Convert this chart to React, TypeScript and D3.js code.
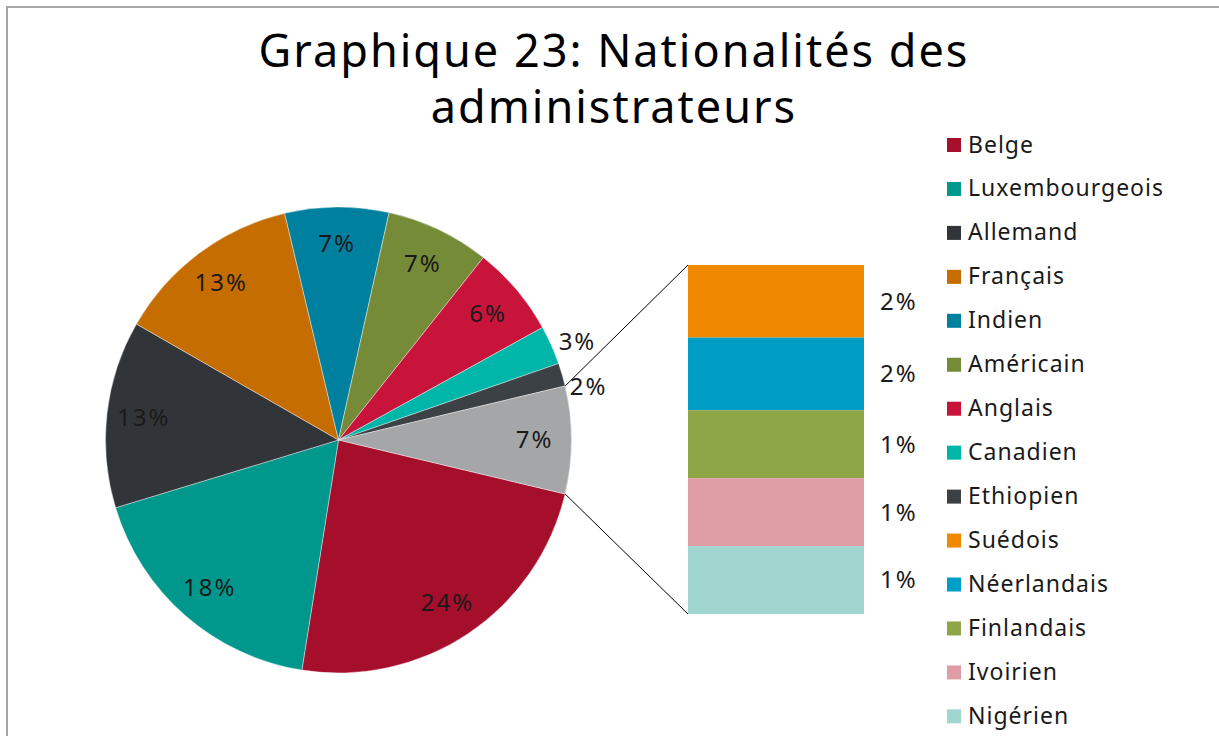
import React, { useRef, useEffect } from "react";
import * as d3 from "d3";

const pieNames = ["Belge", "Luxembourgeois", "Allemand", "Français", "Indien", "Américain", "Anglais", "Canadien", "Ethiopien"];
const pieValues = [23.8, 17.8, 13.0, 13.0, 7.2, 7.2, 6.3, 2.7, 1.6];
const pieColors = ["#a50f2b", "#00978c", "#313539", "#c56d00", "#00809f", "#768b38", "#c8143a", "#00b6a8", "#3c4145"];

const barNames = ["Suédois", "Néerlandais", "Finlandais", "Ivoirien", "Nigérien"];
const barValues = [1.55, 1.55, 1.45, 1.45, 1.45];
const barColors = ["#f08800", "#009dc6", "#8ea646", "#df9ea6", "#a1d5d0"];

const otherColor = "#a5a6a8";
const titleLines = ["Graphique 23: Nationalités des", "administrateurs"];

const FONT = "'Noto Sans', sans-serif";

export default function App() {
	const ref = useRef<SVGSVGElement>(null);

	const layout = {
		width: 1219,
		height: 736,
		cx: 338.5,
		cy: 440,
		r: 233,
		barLeft: 688,
		barRight: 864,
		barTop: 265,
		barBottom: 614,
		legendX: 947,
		legendY: 152.5,
		legendStep: 43.95
	};

	useEffect(() => {
		const svg = d3.select(ref.current);
		svg.selectAll("*").remove();

		const otherValue = d3.sum(barValues);
		const total = d3.sum(pieValues) + otherValue;
		const pct = (v: number) => `${Math.round((v / total) * 100)}%`;

		// frame
		svg.append("rect")
			.attr("x", 7)
			.attr("y", 7)
			.attr("width", layout.width + 20)
			.attr("height", layout.height + 20)
			.attr("fill", "white")
			.attr("stroke", "#a6a6a6")
			.attr("stroke-width", 2);

		// title
		svg.selectAll(".title")
			.data(titleLines)
			.join("text")
			.attr("class", "title")
			.attr("x", 614)
			.attr("y", (d, i) => 67 + i * 56)
			.attr("text-anchor", "middle")
			.attr("font-family", FONT)
			.attr("font-size", 45)
			.attr("letter-spacing", 2)
			.attr("fill", "#000")
			.text(d => d);

		const pieData = pieNames.map((n, i) => ({ name: n, value: pieValues[i], color: pieColors[i] }));
		pieData.push({ name: "Autres", value: otherValue, color: otherColor });

		const otherFrac = otherValue / total;
		const start = Math.PI / 2 + otherFrac * Math.PI;

		const arcs = d3.pie<any>()
			.sort(null)
			.value(d => d.value)
			.startAngle(start)
			.endAngle(start + 2 * Math.PI)(pieData);

		const arc = d3.arc<any>().innerRadius(0).outerRadius(layout.r);
		const labelArc = d3.arc<any>().innerRadius(196).outerRadius(196);
		const outArc = d3.arc<any>().innerRadius(layout.r + 8).outerRadius(layout.r + 8);

		const g = svg.append("g").attr("transform", `translate(${layout.cx},${layout.cy})`);

		g.selectAll(".slice")
			.data(arcs)
			.join("path")
			.attr("class", "slice")
			.attr("d", arc)
			.attr("fill", d => d.data.color)
			.attr("stroke", "white")
			.attr("stroke-width", 0.4);

		let prevY = -Infinity;
		arcs.forEach(a => {
			const small = a.data.value / total < 0.03;
			let x: number, y: number;
			if (small) {
				[x, y] = outArc.centroid(a);
				y = Math.max(y, prevY + 45);
				prevY = y;
			} else {
				[x, y] = labelArc.centroid(a);
			}
			g.append("text")
				.attr("x", x)
				.attr("y", y)
				.attr("dy", "0.35em")
				.attr("text-anchor", small ? "start" : "middle")
				.attr("font-family", FONT)
				.attr("font-size", 24)
				.attr("letter-spacing", 2)
				.attr("fill", "#1a1a1a")
				.text(pct(a.data.value));
		});

		// connector lines from "other" slice to the bar
		const other = arcs[arcs.length - 1];
		const pt = (ang: number) => [layout.cx + layout.r * Math.sin(ang), layout.cy - layout.r * Math.cos(ang)];
		const [tx, ty] = pt(other.startAngle);
		const [bx, by] = pt(other.endAngle);

		svg.append("line")
			.attr("x1", tx).attr("y1", ty)
			.attr("x2", layout.barLeft).attr("y2", layout.barTop)
			.attr("stroke", "#000").attr("stroke-width", 1);
		svg.append("line")
			.attr("x1", bx).attr("y1", by)
			.attr("x2", layout.barLeft).attr("y2", layout.barBottom)
			.attr("stroke", "#000").attr("stroke-width", 1);

		// stacked bar
		const cum = d3.cumsum(barValues);
		const yScale = d3.scaleLinear()
			.domain([0, otherValue])
			.range([layout.barTop, layout.barBottom]);

		const barData = barNames.map((n, i) => ({ name: n, value: barValues[i], color: barColors[i], y0: cum[i] - barValues[i], y1: cum[i] }));

		svg.selectAll(".bar")
			.data(barData)
			.join("rect")
			.attr("class", "bar")
			.attr("x", layout.barLeft)
			.attr("y", d => yScale(d.y0))
			.attr("width", layout.barRight - layout.barLeft)
			.attr("height", d => yScale(d.y1) - yScale(d.y0))
			.attr("fill", d => d.color);

		svg.selectAll(".barLabel")
			.data(barData)
			.join("text")
			.attr("class", "barLabel")
			.attr("x", layout.barRight + 16)
			.attr("y", d => (yScale(d.y0) + yScale(d.y1)) / 2)
			.attr("dy", "0.35em")
			.attr("font-family", FONT)
			.attr("font-size", 24)
			.attr("letter-spacing", 2)
			.attr("fill", "#1a1a1a")
			.text(d => pct(d.value));

		// legend
		const legendItems = [...pieData.slice(0, pieNames.length), ...barData];
		const legend = svg.selectAll(".legend")
			.data(legendItems)
			.join("g")
			.attr("class", "legend")
			.attr("transform", (d, i) => `translate(${layout.legendX},${layout.legendY + i * layout.legendStep})`);

		legend.append("rect")
			.attr("x", 0)
			.attr("y", -14.5)
			.attr("width", 14)
			.attr("height", 14)
			.attr("fill", d => d.color);

		legend.append("text")
			.attr("x", 21)
			.attr("y", 0)
			.attr("font-family", FONT)
			.attr("font-size", 23)
			.attr("letter-spacing", 1)
			.attr("fill", "#1a1a1a")
			.text(d => d.name);
	}, []);

	return (
		<svg
			ref={ref}
			width={layout.width}
			height={layout.height}
			style={{ position: "absolute", left: 0, top: 0 }}
		/>
	);
}
